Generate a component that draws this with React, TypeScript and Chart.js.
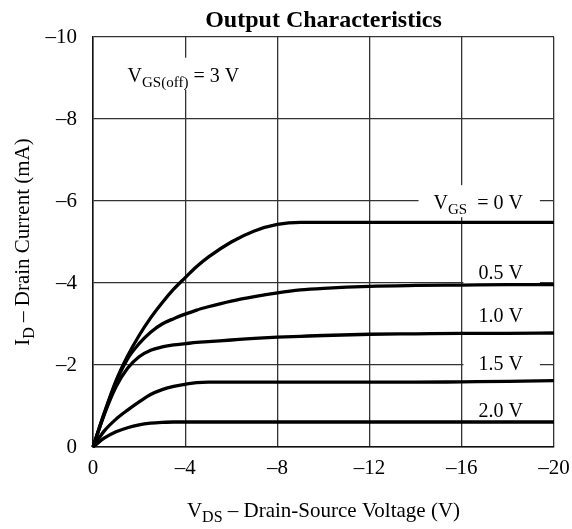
import { useEffect, useRef } from "react";
import { Chart, registerables } from "chart.js";

Chart.register(...registerables);

// Drain-source voltage sample points (V)
const vds = [0, -0.5, -1, -1.5, -2, -2.5, -3, -3.5, -4, -4.5, -5, -6, -7, -8, -9, -10, -12, -14, -16, -18, -20];

// Drain current (mA) for each gate-source voltage
const idVgs0 = [0, -0.85, -1.62, -2.22, -2.72, -3.15, -3.52, -3.85, -4.13, -4.4, -4.63, -5.0, -5.27, -5.43, -5.48, -5.48, -5.48, -5.48, -5.48, -5.48, -5.48];
const idVgs05 = [0, -0.83, -1.58, -2.15, -2.52, -2.8, -3.0, -3.13, -3.24, -3.34, -3.42, -3.56, -3.67, -3.76, -3.83, -3.87, -3.92, -3.94, -3.95, -3.96, -3.96];
const idVgs10 = [0, -0.81, -1.47, -1.92, -2.2, -2.36, -2.44, -2.49, -2.52, -2.55, -2.57, -2.61, -2.65, -2.68, -2.7, -2.72, -2.75, -2.76, -2.77, -2.77, -2.78];
const idVgs15 = [0, -0.4, -0.68, -0.9, -1.1, -1.28, -1.4, -1.48, -1.53, -1.57, -1.58, -1.58, -1.58, -1.58, -1.58, -1.58, -1.58, -1.58, -1.59, -1.6, -1.62];
const idVgs20 = [0, -0.22, -0.37, -0.47, -0.54, -0.58, -0.6, -0.61, -0.61, -0.61, -0.61, -0.61, -0.61, -0.61, -0.61, -0.61, -0.61, -0.61, -0.61, -0.61, -0.61];

const seriesNames = ["0 V", "0.5 V", "1.0 V", "1.5 V", "2.0 V"];
const seriesValues = [idVgs0, idVgs05, idVgs10, idVgs15, idVgs20];

const xTickValues = [0, -4, -8, -12, -16, -20];
const xTickLabels = ["0", "–4", "–8", "–12", "–16", "–20"];
const yTickValues = [0, -2, -4, -6, -8, -10];
const yTickLabels = ["0", "–2", "–4", "–6", "–8", "–10"];

const chartTitle = "Output Characteristics";

const SERIF = '"Liberation Serif", "Times New Roman", Times, serif';
const MAIN = 20;
const SUB = 15;

type Seg = { t: string; sub?: boolean };

const xTitle: Seg[] = [{ t: "V" }, { t: "DS", sub: true }, { t: " – Drain-Source Voltage (V)" }];
const yTitle: Seg[] = [{ t: "I" }, { t: "D", sub: true }, { t: " – Drain Current (mA)" }];

const annotations: { segs: Seg[]; x: number; y: number; align: "left" | "right" }[] = [
  { segs: [{ t: "V" }, { t: "GS(off)", sub: true }, { t: " = 3 V" }], x: -1.5, y: -8.91, align: "left" },
  { segs: [{ t: "V" }, { t: "GS", sub: true }, { t: "  = 0 V" }], x: -18.65, y: -5.8, align: "right" },
  { segs: [{ t: seriesNames[1] }], x: -18.65, y: -4.1, align: "right" },
  { segs: [{ t: seriesNames[2] }], x: -18.65, y: -3.05, align: "right" },
  { segs: [{ t: seriesNames[3] }], x: -18.65, y: -1.88, align: "right" },
  { segs: [{ t: seriesNames[4] }], x: -18.65, y: -0.73, align: "right" },
];

function richWidth(ctx: CanvasRenderingContext2D, segs: Seg[], size = MAIN, sub = SUB) {
  let w = 0;
  for (const s of segs) {
    ctx.font = `${s.sub ? sub : size}px ${SERIF}`;
    w += ctx.measureText(s.t).width;
  }
  return w;
}

function drawRich(ctx: CanvasRenderingContext2D, segs: Seg[], x: number, y: number, size = MAIN, sub = SUB) {
  ctx.textAlign = "left";
  ctx.textBaseline = "alphabetic";
  ctx.fillStyle = "#000";
  let cx = x;
  for (const s of segs) {
    ctx.font = `${s.sub ? sub : size}px ${SERIF}`;
    ctx.fillText(s.t, cx, s.sub ? y + 5 : y);
    cx += ctx.measureText(s.t).width;
  }
}

const textPlugin = {
  id: "customText",
  beforeDatasetsDraw(chart: any) {
    const ctx: CanvasRenderingContext2D = chart.ctx;
    const xs = chart.scales.x;
    const ys = chart.scales.y;
    ctx.save();
    for (const a of annotations) {
      const w = richWidth(ctx, a.segs);
      const px = xs.getPixelForValue(a.x);
      const py = ys.getPixelForValue(a.y);
      const left = a.align === "right" ? px - w : px;
      ctx.fillStyle = "#fff";
      ctx.fillRect(left - 15, py - 24, w + 32, 32);
      drawRich(ctx, a.segs, left, py);
    }
    ctx.restore();
  },
  afterDraw(chart: any) {
    const ctx: CanvasRenderingContext2D = chart.ctx;
    const area = chart.chartArea;
    const cx = (area.left + area.right) / 2;
    const cy = (area.top + area.bottom) / 2;
    ctx.save();
    ctx.font = `bold 24px ${SERIF}`;
    ctx.fillStyle = "#000";
    ctx.textAlign = "center";
    ctx.textBaseline = "alphabetic";
    ctx.fillText(chartTitle, cx, 27);
    const wx = richWidth(ctx, xTitle, 21, 16);
    drawRich(ctx, xTitle, cx - wx / 2, 517, 21, 16);
    const wy = richWidth(ctx, yTitle, 21, 16);
    ctx.translate(29, cy);
    ctx.rotate(-Math.PI / 2);
    drawRich(ctx, yTitle, -wy / 2, 0, 21, 16);
    ctx.restore();
  },
};

export default function App() {
  const ref = useRef<HTMLCanvasElement | null>(null);

  useEffect(() => {
    if (!ref.current) return;
    const datasets = seriesValues.map((vals, i) => ({
      label: seriesNames[i],
      data: vds.map((v, j) => ({ x: v, y: vals[j] })),
      borderColor: "#000",
      backgroundColor: "#000",
      borderWidth: 3.3,
      pointRadius: 0,
      fill: false,
      cubicInterpolationMode: "monotone" as const,
      clip: false as any,
    }));
    const chart = new Chart(ref.current, {
      type: "line",
      data: { datasets },
      options: {
        responsive: false,
        animation: false,
        events: [],
        layout: { padding: { top: 37, right: 18, left: 0, bottom: 0 } },
        plugins: { legend: { display: false }, tooltip: { enabled: false }, title: { display: false } },
        scales: {
          x: {
            type: "linear",
            min: -20,
            max: 0,
            reverse: true,
            afterBuildTicks: (s: any) => {
              s.ticks = xTickValues.map((v) => ({ value: v }));
            },
            afterFit: (s: any) => {
              s.height = 82;
              s.paddingLeft = 0;
              s.paddingRight = 0;
            },
            ticks: {
              autoSkip: false,
              maxRotation: 0,
              padding: 9,
              color: "#000",
              font: { family: SERIF, size: 21 },
              callback: (v: any) => {
                const i = xTickValues.indexOf(Number(v));
                return i >= 0 ? xTickLabels[i] : "";
              },
            },
            grid: { color: "#333", lineWidth: 1.3, drawTicks: false, tickLength: 0 },
            border: { display: true, color: "#111", width: 1.5 },
          },
          y: {
            type: "linear",
            min: -10,
            max: 0,
            reverse: true,
            afterBuildTicks: (s: any) => {
              s.ticks = yTickValues.map((v) => ({ value: v }));
            },
            afterFit: (s: any) => {
              s.width = 93;
              s.paddingTop = 0;
              s.paddingBottom = 0;
            },
            ticks: {
              autoSkip: false,
              padding: 16,
              color: "#000",
              font: { family: SERIF, size: 21 },
              callback: (v: any) => {
                const i = yTickValues.indexOf(Number(v));
                return i >= 0 ? yTickLabels[i] : "";
              },
            },
            grid: { color: "#333", lineWidth: 1.3, drawTicks: false, tickLength: 0 },
            border: { display: true, color: "#111", width: 1.5 },
          },
        },
      },
      plugins: [textPlugin],
    });
    return () => chart.destroy();
  }, []);

  return (
    <div style={{ position: "fixed", left: 0, top: 0, width: 572, height: 529, background: "#fff" }}>
      <canvas ref={ref} width={572} height={529} style={{ display: "block" }} />
    </div>
  );
}
